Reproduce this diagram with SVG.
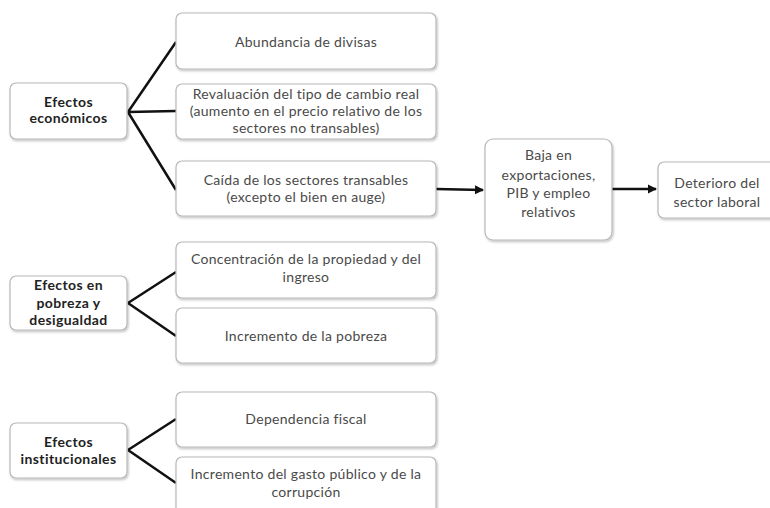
<svg xmlns="http://www.w3.org/2000/svg" width="770" height="508" viewBox="0 0 770 508">
<style>
.box{fill:#fff;stroke:#b8b8b8;stroke-width:1.2;filter:url(#sh)}
.t{font-family:Lato,"Open Sans","Liberation Sans",sans-serif;font-size:14px;letter-spacing:0.3px;fill:#4a4a4a;text-anchor:middle}
.b{font-weight:bold;fill:#222;letter-spacing:0.4px}
.c{fill:none;stroke:#111;stroke-width:2.5}
</style>
<defs>
<filter id="sh" x="-10%" y="-10%" width="120%" height="130%">
<feDropShadow dx="1" dy="1.5" stdDeviation="1" flood-color="#000" flood-opacity="0.25"/>
</filter>
<marker id="ah" markerWidth="10" markerHeight="10" refX="8" refY="5" orient="auto" markerUnits="userSpaceOnUse">
<path d="M0,0.5 L9,5 L0,9.5 Z" fill="#111"/>
</marker>
</defs>
<rect width="770" height="508" fill="#fff"/>
<g id="connectors">
<path class="c" d="M128,112 L176,42 M128,112 L176,111 M128,112 L176,190"/>
<path class="c" d="M128,303 L176,272 M128,303 L176,336"/>
<path class="c" d="M128,450 L176,419 M128,450 L176,483"/>
<path class="c" d="M436,189 L483,190" marker-end="url(#ah)"/>
<path class="c" d="M612,189 L656,189" marker-end="url(#ah)"/>
</g>
<g id="n_econ"><rect class="box" x="10" y="83" width="117" height="56" rx="6"/>
<text class="t b" x="68.5" y="107">Efectos</text><text class="t b" x="68.5" y="123">económicos</text></g>
<g id="n_divisas"><rect class="box" x="176" y="13" width="260" height="56" rx="6"/>
<text class="t" x="306" y="47">Abundancia de divisas</text></g>
<g id="n_reval"><rect class="box" x="176" y="84" width="260" height="55" rx="6"/>
<text class="t" x="306" y="99">Revaluación del tipo de cambio real</text>
<text class="t" x="306" y="116">(aumento en el precio relativo de los</text>
<text class="t" x="306" y="133">sectores no transables)</text></g>
<g id="n_caida"><rect class="box" x="176" y="161" width="260" height="55" rx="6"/>
<text class="t" x="306" y="185">Caída de los sectores transables</text>
<text class="t" x="306" y="202">(excepto el bien en auge)</text></g>
<g id="n_baja"><rect class="box" x="485" y="139" width="127" height="101" rx="8"/>
<text class="t" x="548.5" y="160">Baja en</text>
<text class="t" x="548.5" y="180">exportaciones,</text>
<text class="t" x="548.5" y="198">PIB y empleo</text>
<text class="t" x="548.5" y="217">relativos</text></g>
<g id="n_deterioro"><rect class="box" x="658" y="162" width="125" height="56" rx="6"/>
<text class="t" x="717" y="188">Deterioro del</text>
<text class="t" x="717" y="207">sector laboral</text></g>
<g id="n_pobreza"><rect class="box" x="10" y="276" width="117" height="54" rx="6"/>
<text class="t b" x="68.5" y="290">Efectos en</text>
<text class="t b" x="68.5" y="308">pobreza y</text>
<text class="t b" x="68.5" y="325">desigualdad</text></g>
<g id="n_concentracion"><rect class="box" x="176" y="242" width="260" height="56" rx="6"/>
<text class="t" x="306" y="264">Concentración de la propiedad y del</text>
<text class="t" x="306" y="282">ingreso</text></g>
<g id="n_incpobreza"><rect class="box" x="176" y="308" width="260" height="55" rx="6"/>
<text class="t" x="306" y="341">Incremento de la pobreza</text></g>
<g id="n_inst"><rect class="box" x="10" y="423" width="117" height="55" rx="6"/>
<text class="t b" x="68.5" y="447">Efectos</text>
<text class="t b" x="68.5" y="464">institucionales</text></g>
<g id="n_fiscal"><rect class="box" x="176" y="392" width="260" height="55" rx="6"/>
<text class="t" x="306" y="424">Dependencia fiscal</text></g>
<g id="n_gasto"><rect class="box" x="176" y="457" width="260" height="60" rx="6"/>
<text class="t" x="306" y="479">Incremento del gasto público y de la</text>
<text class="t" x="306" y="497">corrupción</text></g>
</svg>
